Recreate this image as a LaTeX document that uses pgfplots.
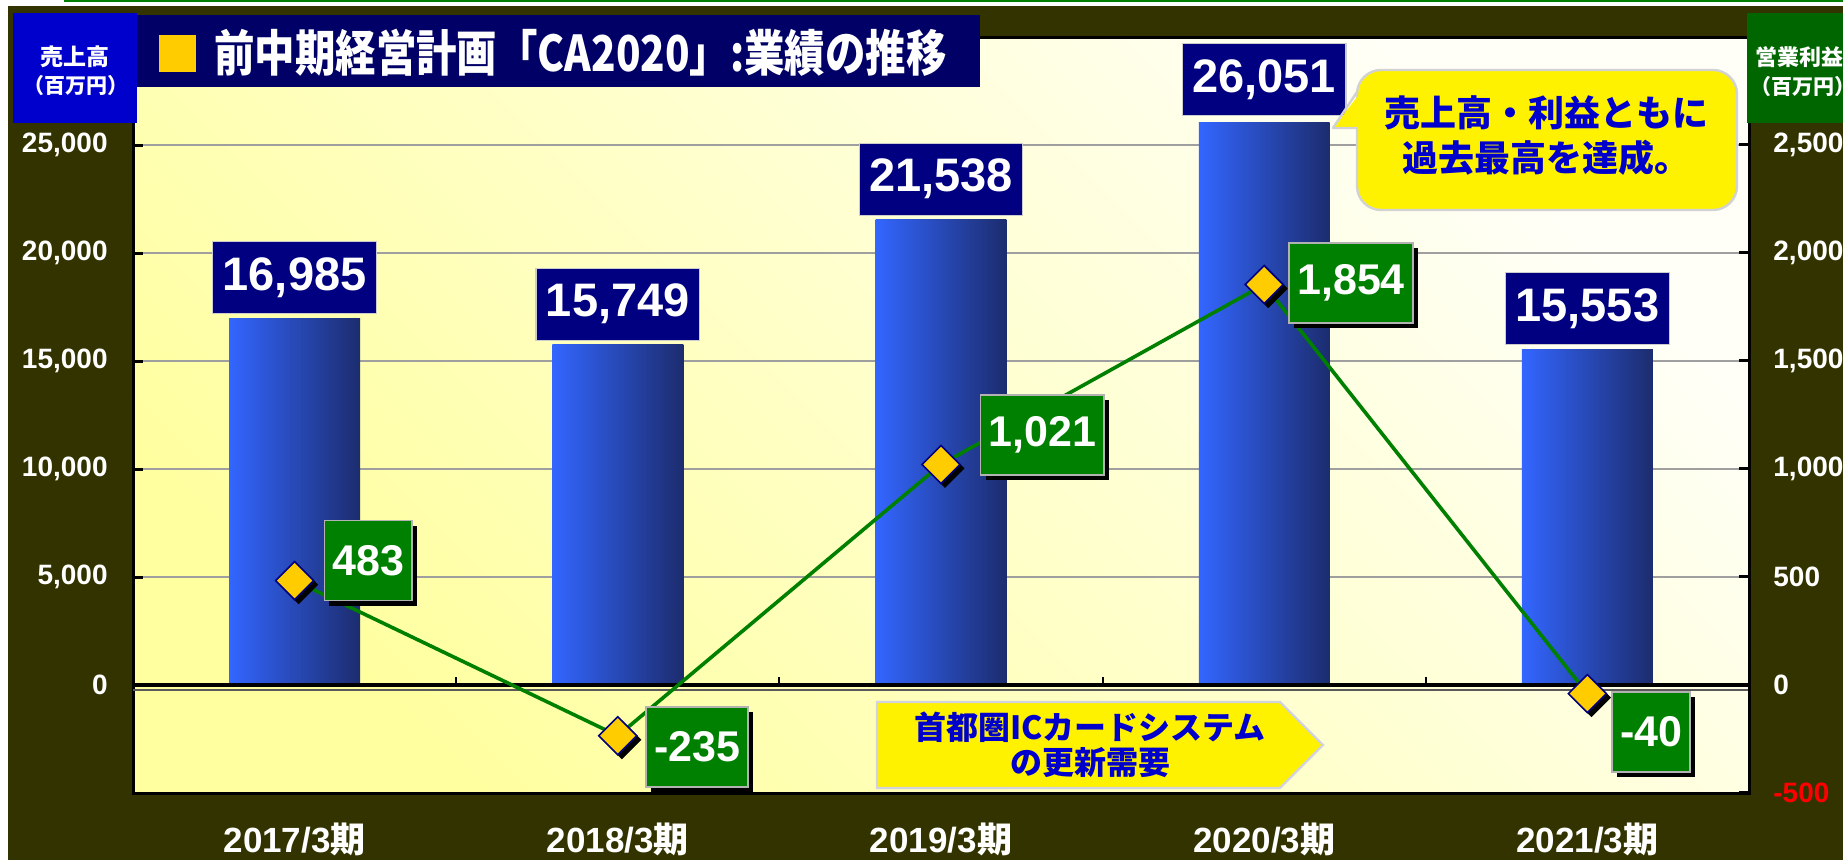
\documentclass[border=0pt]{standalone}
\usepackage{fontspec}
\setmainfont{Liberation Sans}
\newfontfamily\jp{Noto Sans CJK JP}
\usepackage{graphicx}
\usepackage{pgfplots}
\pgfplotsset{compat=1.18}
\usetikzlibrary{shadows}

\definecolor{olive}{RGB}{51,51,0}
\definecolor{navy}{RGB}{0,0,128}
\definecolor{titlenavy}{RGB}{0,0,102}
\definecolor{lblblue}{RGB}{0,0,204}
\definecolor{lblgreen}{RGB}{0,102,0}
\definecolor{vgreen}{RGB}{0,128,0}
\definecolor{barL}{RGB}{51,102,255}
\definecolor{barR}{RGB}{28,44,110}
\definecolor{dia}{RGB}{255,204,0}
\definecolor{txtblue}{RGB}{0,0,204}
\definecolor{bgA}{RGB}{255,255,160}
\definecolor{bgB}{RGB}{255,255,248}

\tikzset{
  navylbl/.style={fill=navy, draw=gray!40, line width=0.6pt, text=white, anchor=south,
    font=\fontsize{23.5pt}{26pt}\selectfont\bfseries, minimum height=36pt, inner xsep=5pt, inner ysep=0pt},
  grnlbl/.style={fill=vgreen, draw=gray!60, line width=0.8pt, text=white, anchor=west,
    font=\fontsize{21.5pt}{24pt}\selectfont\bfseries, minimum height=40pt, inner xsep=4pt, inner ysep=0pt,
    general shadow={fill=black, shadow xshift=2.5pt, shadow yshift=-2.5pt}},
}

\begin{document}
\begin{tikzpicture}
\useasboundingbox (0,0) rectangle (921.5pt,-430pt);
\clip (0,0) rectangle (921.5pt,-430pt);
\begin{scope}[x=0.5pt,y=-0.5pt]
\fill[white] (0,0) rectangle (1843,860);
\fill[olive] (8,6) rectangle (1843,860);
\fill[vgreen] (64,0) rectangle (1843,2.5);
\shade[bottom color=bgA, top color=bgB, shading angle=-45] (133,37) rectangle (1749,793);
\end{scope}

\begin{axis}[
  at={(66.5pt,-396.5pt)}, anchor=south west,
  scale only axis, width=808pt, height=378pt,
  xmin=-0.5, xmax=4.5, ymin=-5000, ymax=30000,
  scaled ticks=false,
  axis line style={black, line width=1.5pt},
  xtick={0,1,2,3,4},
  xticklabels={{2017/3{\jp\bfseries 期}},{2018/3{\jp\bfseries 期}},{2019/3{\jp\bfseries 期}},{2020/3{\jp\bfseries 期}},{2021/3{\jp\bfseries 期}}},
  x tick style={draw=none},
  xtick pos=bottom, ytick pos=left,
  ytick={0,5000,10000,15000,20000,25000},
  yticklabels={0,{5,000},{10,000},{15,000},{20,000},{25,000}},
  tick align=inside, major tick length=5pt,
  y tick style={black, line width=1.5pt},
  ymajorgrids, major grid style={draw=gray!75, line width=0.7pt},
  yticklabel style={font=\fontsize{14pt}{16pt}\selectfont\bfseries, text=white, inner sep=0pt},
  yticklabel shift=12.5pt,
  xticklabel style={font=\fontsize{17.5pt}{20pt}\selectfont\bfseries, text=white, inner sep=0pt, anchor=north},
  xticklabel shift=15pt,
  clip=false,
]
\addplot[ybar, bar width=0.405, bar shift=0pt, draw=none, left color=barL, right color=barR] coordinates {(0,16985)};
\addplot[ybar, bar width=0.405, bar shift=0pt, draw=none, left color=barL, right color=barR] coordinates {(1,15749)};
\addplot[ybar, bar width=0.405, bar shift=0pt, draw=none, left color=barL, right color=barR] coordinates {(2,21538)};
\addplot[ybar, bar width=0.405, bar shift=0pt, draw=none, left color=barL, right color=barR] coordinates {(3,26051)};
\addplot[ybar, bar width=0.405, bar shift=0pt, draw=none, left color=barL, right color=barR] coordinates {(4,15553)};
\draw[gray!70!black, line width=0.7pt] ([yshift=-2.5pt]axis cs:-0.5,0) -- ([yshift=-2.5pt]axis cs:4.5,0);
\draw[black, line width=1.6pt] (axis cs:-0.5,0) -- (axis cs:4.5,0);
\draw[black, line width=1pt] (axis cs:0.5,0) -- ([yshift=4pt]axis cs:0.5,0);
\draw[black, line width=1pt] (axis cs:1.5,0) -- ([yshift=4pt]axis cs:1.5,0);
\draw[black, line width=1pt] (axis cs:2.5,0) -- ([yshift=4pt]axis cs:2.5,0);
\draw[black, line width=1pt] (axis cs:3.5,0) -- ([yshift=4pt]axis cs:3.5,0);
\node[navylbl, yshift=2pt] at (axis cs:0,16985) {16,985};
\node[navylbl, yshift=2pt] at (axis cs:1,15749) {15,749};
\node[navylbl, yshift=2pt] at (axis cs:2,21538) {21,538};
\node[navylbl, yshift=3pt] at (axis cs:3,26051) {26,051};
\node[navylbl, yshift=2pt] at (axis cs:4,15553) {15,553};
\end{axis}

\begin{axis}[
  at={(66.5pt,-396.5pt)}, anchor=south west,
  scale only axis, width=808pt, height=378pt,
  xmin=-0.5, xmax=4.5, ymin=-500, ymax=3000,
  scaled ticks=false,
  axis x line=none, axis y line*=right,
  axis line style={black, line width=1.5pt},
  ytick={-500,0,500,1000,1500,2000,2500},
  yticklabels={{\color{red}-500},0,500,{1,000},{1,500},{2,000},{2,500}},
  tick align=inside, major tick length=5pt,
  y tick style={black, line width=1.5pt},
  yticklabel style={font=\fontsize{14pt}{16pt}\selectfont\bfseries, text=white, inner sep=0pt, anchor=west},
  yticklabel shift=12pt,
  clip=false,
]
\addplot[vgreen, line width=1.8pt] coordinates {(0,483)(1,-235)(2,1021)(3,1854)(4,-40)};
\addplot[only marks, mark=square*, mark size=6.7pt, mark options={xshift=2pt, yshift=-2pt, rotate=45, fill=black, draw=black}] coordinates {(0,483)(1,-235)(2,1021)(3,1854)(4,-40)};
\addplot[only marks, mark=square*, mark size=6.7pt, mark options={rotate=45, fill=dia, draw=navy, line width=0.8pt}] coordinates {(0,483)(1,-235)(2,1021)(3,1854)(4,-40)};
\node[grnlbl] at (axis cs:0.090,576) {483};
\node[grnlbl] at (axis cs:1.085,-288) {-235};
\node[grnlbl] at (axis cs:2.12,1157) {1,021};
\node[grnlbl] at (axis cs:3.075,1861) {1,854};
\node[grnlbl] at (axis cs:4.074,-218) {-40};
\end{axis}

\begin{scope}[x=0.5pt,y=-0.5pt]
% left axis title
\fill[lblblue] (13,13) rectangle (137,123);
\node[text=white, font=\jp\bfseries\fontsize{11.5pt}{13pt}\selectfont] at (75,57) {売上高};
\node[text=white, font=\jp\bfseries\fontsize{10.5pt}{13pt}\selectfont] at (76,86) {（百万円）};
% right axis title
\fill[lblgreen] (1747,13) rectangle (1860,123);
\node[text=white, font=\jp\bfseries\fontsize{11pt}{13pt}\selectfont, anchor=west, inner sep=0pt] at (1755,57) {営業利益};
\node[text=white, font=\jp\bfseries\fontsize{10.5pt}{13pt}\selectfont, anchor=west, inner sep=0pt] at (1750,87) {（百万円）};
% title
\fill[titlenavy] (137,15) rectangle (980,87);
\fill[dia] (159,35) rectangle (196,72);
\node[anchor=west, text=white, inner sep=0pt] at (214,53) {\scalebox{0.86}[1.05]{\jp\bfseries\fontsize{23.5pt}{26pt}\selectfont 前中期経営計画「CA2020」:業績の推移}};
% callout
\fill[yellow, draw=gray!35, line width=1.2pt, rounded corners=12pt] (1357,70) rectangle (1737,210);
\fill[yellow] (1361,92) -- (1333,128) -- (1361,128) -- cycle;
\draw[gray!35, line width=1.2pt, line join=round] (1357,92) -- (1333,128) -- (1357,128);
\node[text=txtblue, font=\jp\bfseries\fontsize{18pt}{22.5pt}\selectfont, align=center] at (1546,136) {売上高・利益ともに\\過去最高を達成。};
% arrow
\fill[yellow, draw=blue!15!gray!30, line width=1.2pt] (877,702) -- (1280,702) -- (1323,745) -- (1280,788) -- (877,788) -- cycle;
\node[text=txtblue, font=\jp\bfseries\fontsize{16pt}{17.5pt}\selectfont, align=center] at (1090,745) {首都圏ICカードシステム\\の更新需要};
\end{scope}
\end{tikzpicture}
\end{document}
